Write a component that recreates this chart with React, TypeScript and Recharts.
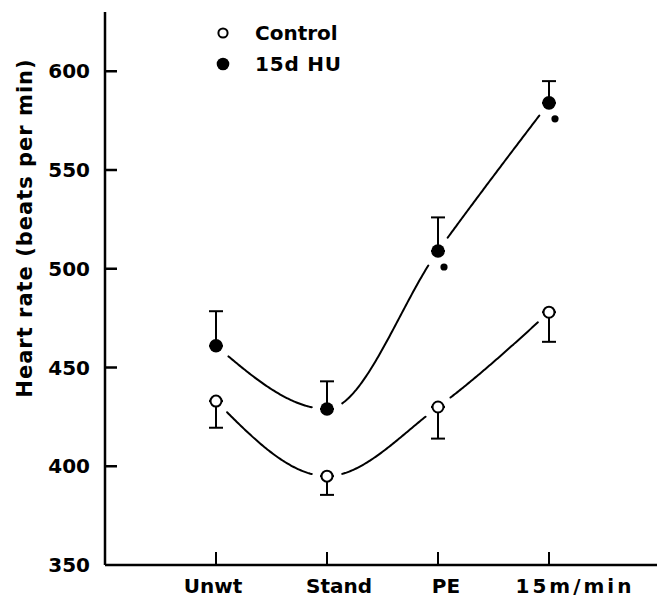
import React from 'react';
import { ComposedChart, Scatter, XAxis, YAxis, ErrorBar } from 'recharts';

// ---- data ----
const categories = ['Unwt', 'Stand', 'PE', '15m/min'];
const controlMean = [433, 395, 430, 478];
const controlSE = [13.5, 9.5, 16, 15];
const huMean = [461, 429, 509, 584];
const huSE = [17.5, 14, 17, 11];
const huSignificant = [false, false, true, true];
const yTicks = [350, 400, 450, 500, 550, 600];
const xTicks = [1, 2, 3, 4];
const seriesNames = ['Control', '15d HU'];
const yAxisTitle = 'Heart rate (beats per min)';

const data = categories.map((name, i) => ({
  x: i + 1,
  name,
  control: controlMean[i],
  hu: huMean[i],
  controlErr: [controlSE[i], 0],
  huErr: [0, huSE[i]],
  sig: huSignificant[i],
}));

// ---- style ----
const FONT = '"DejaVu Sans", Verdana, sans-serif';
const X_LABEL_DX: Record<string, number> = { Unwt: -3, Stand: 12, PE: 8, '15m/min': 26 };
const X_LABEL_LS: Record<string, number> = { Unwt: 0, Stand: 0, PE: 0, '15m/min': 3 };
const GAP_RADIUS = 15;

const YTick = (props: any) => {
  const { x, y, payload } = props;
  const axisX = x + 15;
  return (
    <g>
      {payload.value !== 350 && <rect x={axisX} y={y - 1.25} width={12} height={2.5} fill="#000" />}
      <text x={x} y={y} dy={7} textAnchor="end" fontFamily={FONT} fontWeight="bold" fontSize={20} fill="#000">
        {payload.value}
      </text>
    </g>
  );
};

const XTick = (props: any) => {
  const { x, y, payload } = props;
  const label = categories[payload.value - 1] ?? '';
  return (
    <text
      x={x + (X_LABEL_DX[label] ?? 0)}
      y={y + 41}
      textAnchor="middle"
      fontFamily={FONT}
      fontWeight="bold"
      fontSize={20}
      letterSpacing={X_LABEL_LS[label] ?? 0}
      fill="#000"
    >
      {label}
    </text>
  );
};

const YTitle = (props: any) => {
  const vb = props.viewBox || { x: 0, y: 0 };
  const cx = vb.x + 25;
  const cy = vb.y + 216;
  return (
    <text
      transform={`translate(${cx},${cy}) rotate(-90)`}
      textAnchor="middle"
      dominantBaseline="central"
      fontFamily={FONT}
      fontWeight="bold"
      fontSize={21}
      letterSpacing={1.0}
      fill="#000"
    >
      {yAxisTitle}
    </text>
  );
};

const OpenMarker = (props: any) => (
  <circle cx={props.cx} cy={props.cy} r={5.5} fill="#fff" stroke="#000" strokeWidth={2} />
);

const FilledMarker = (props: any) => (
  <g>
    <circle cx={props.cx} cy={props.cy} r={6.8} fill="#000" />
    {props.payload && props.payload.sig && (
      <circle cx={props.cx + 6} cy={props.cy + 16} r={3.6} fill="#000" />
    )}
  </g>
);

type P = { x: number; y: number };

// monotone-x tangents (same scheme as d3 curveMonotoneX)
function monotoneTangents(pts: P[]): number[] {
  const n = pts.length;
  const t = new Array(n).fill(0);
  if (n < 2) return t;
  const slope = (i: number) => (pts[i + 1].y - pts[i].y) / (pts[i + 1].x - pts[i].x);
  for (let i = 1; i < n - 1; i++) {
    const h0 = pts[i].x - pts[i - 1].x;
    const h1 = pts[i + 1].x - pts[i].x;
    const s0 = slope(i - 1);
    const s1 = slope(i);
    const p = (s0 * h1 + s1 * h0) / (h0 + h1);
    t[i] = (Math.sign(s0) + Math.sign(s1)) * Math.min(Math.abs(s0), Math.abs(s1), 0.5 * Math.abs(p)) || 0;
  }
  if (n === 2) {
    t[0] = t[1] = slope(0);
  } else {
    t[0] = (3 * slope(0) - t[1]) / 2;
    t[n - 1] = (3 * slope(n - 2) - t[n - 2]) / 2;
  }
  return t;
}

// smooth curve through the scatter points, interrupted around each marker
const GappedCurve = (props: any) => {
  const pts: P[] = (props.points || []).filter((p: any) => p && p.x != null && p.y != null);
  if (pts.length < 2) return null;
  const t = monotoneTangents(pts);
  const runs: P[][] = [];
  let cur: P[] = [];
  const N = 80;
  for (let i = 0; i < pts.length - 1; i++) {
    const a = pts[i];
    const b = pts[i + 1];
    const dx = b.x - a.x;
    const c1 = { x: a.x + dx / 3, y: a.y + (dx * t[i]) / 3 };
    const c2 = { x: b.x - dx / 3, y: b.y - (dx * t[i + 1]) / 3 };
    for (let k = 0; k <= N; k++) {
      const u = k / N;
      const v = 1 - u;
      const px = v * v * v * a.x + 3 * v * v * u * c1.x + 3 * v * u * u * c2.x + u * u * u * b.x;
      const py = v * v * v * a.y + 3 * v * v * u * c1.y + 3 * v * u * u * c2.y + u * u * u * b.y;
      const near = pts.some((q) => Math.hypot(q.x - px, q.y - py) < GAP_RADIUS);
      if (near) {
        if (cur.length > 1) runs.push(cur);
        cur = [];
      } else {
        cur.push({ x: px, y: py });
      }
    }
  }
  if (cur.length > 1) runs.push(cur);
  const d = runs
    .map((r) => r.map((p, j) => `${j === 0 ? 'M' : 'L'}${p.x.toFixed(2)},${p.y.toFixed(2)}`).join(''))
    .join('');
  return <path d={d} fill="none" stroke="#000" strokeWidth={2} strokeLinecap="round" strokeLinejoin="round" />;
};

const LegendBox = () => (
  <svg width={180} height={70} style={{ position: 'absolute', left: 210, top: 15, display: 'block' }}>
    <circle cx={13} cy={18} r={4.6} fill="#fff" stroke="#000" strokeWidth={2} />
    <text x={45} y={18} dy={7} fontFamily={FONT} fontWeight="bold" fontSize={20} fill="#000">
      {seriesNames[0]}
    </text>
    <circle cx={13} cy={49} r={6.3} fill="#000" />
    <text x={45} y={49} dy={7} fontFamily={FONT} fontWeight="bold" fontSize={20} letterSpacing={0.8} fill="#000">
      {seriesNames[1]}
    </text>
  </svg>
);

export default function App() {
  return (
    <div style={{ position: 'absolute', left: 0, top: 0, width: 657, height: 599, background: '#fff' }}>
      <ComposedChart width={657} height={599} data={data} margin={{ top: 12, right: 0, bottom: 0, left: 0 }}>
        <XAxis
          dataKey="x"
          type="number"
          domain={[0, 4.973]}
          ticks={xTicks}
          allowDataOverflow
          height={34}
          tickSize={-13}
          tickMargin={0}
          tickLine={{ stroke: '#000', strokeWidth: 2 }}
          tick={<XTick />}
          axisLine={{ stroke: '#000', strokeWidth: 2.5 }}
        />
        <YAxis
          type="number"
          domain={[350, 630]}
          ticks={yTicks}
          allowDataOverflow
          width={105}
          tickSize={-11}
          tickMargin={26}
          tickLine={false}
          tick={<YTick />}
          axisLine={{ stroke: '#000', strokeWidth: 2.5 }}
          label={<YTitle />}
        />
        <Scatter
          name={seriesNames[0]}
          dataKey="control"
          shape={<OpenMarker />}
          line={<GappedCurve />}
          isAnimationActive={false}
        >
          <ErrorBar dataKey="controlErr" direction="y" width={7} stroke="#000" strokeWidth={2} isAnimationActive={false} />
        </Scatter>
        <Scatter
          name={seriesNames[1]}
          dataKey="hu"
          shape={<FilledMarker />}
          line={<GappedCurve />}
          isAnimationActive={false}
        >
          <ErrorBar dataKey="huErr" direction="y" width={7} stroke="#000" strokeWidth={2} isAnimationActive={false} />
        </Scatter>
      </ComposedChart>
      <LegendBox />
    </div>
  );
}
